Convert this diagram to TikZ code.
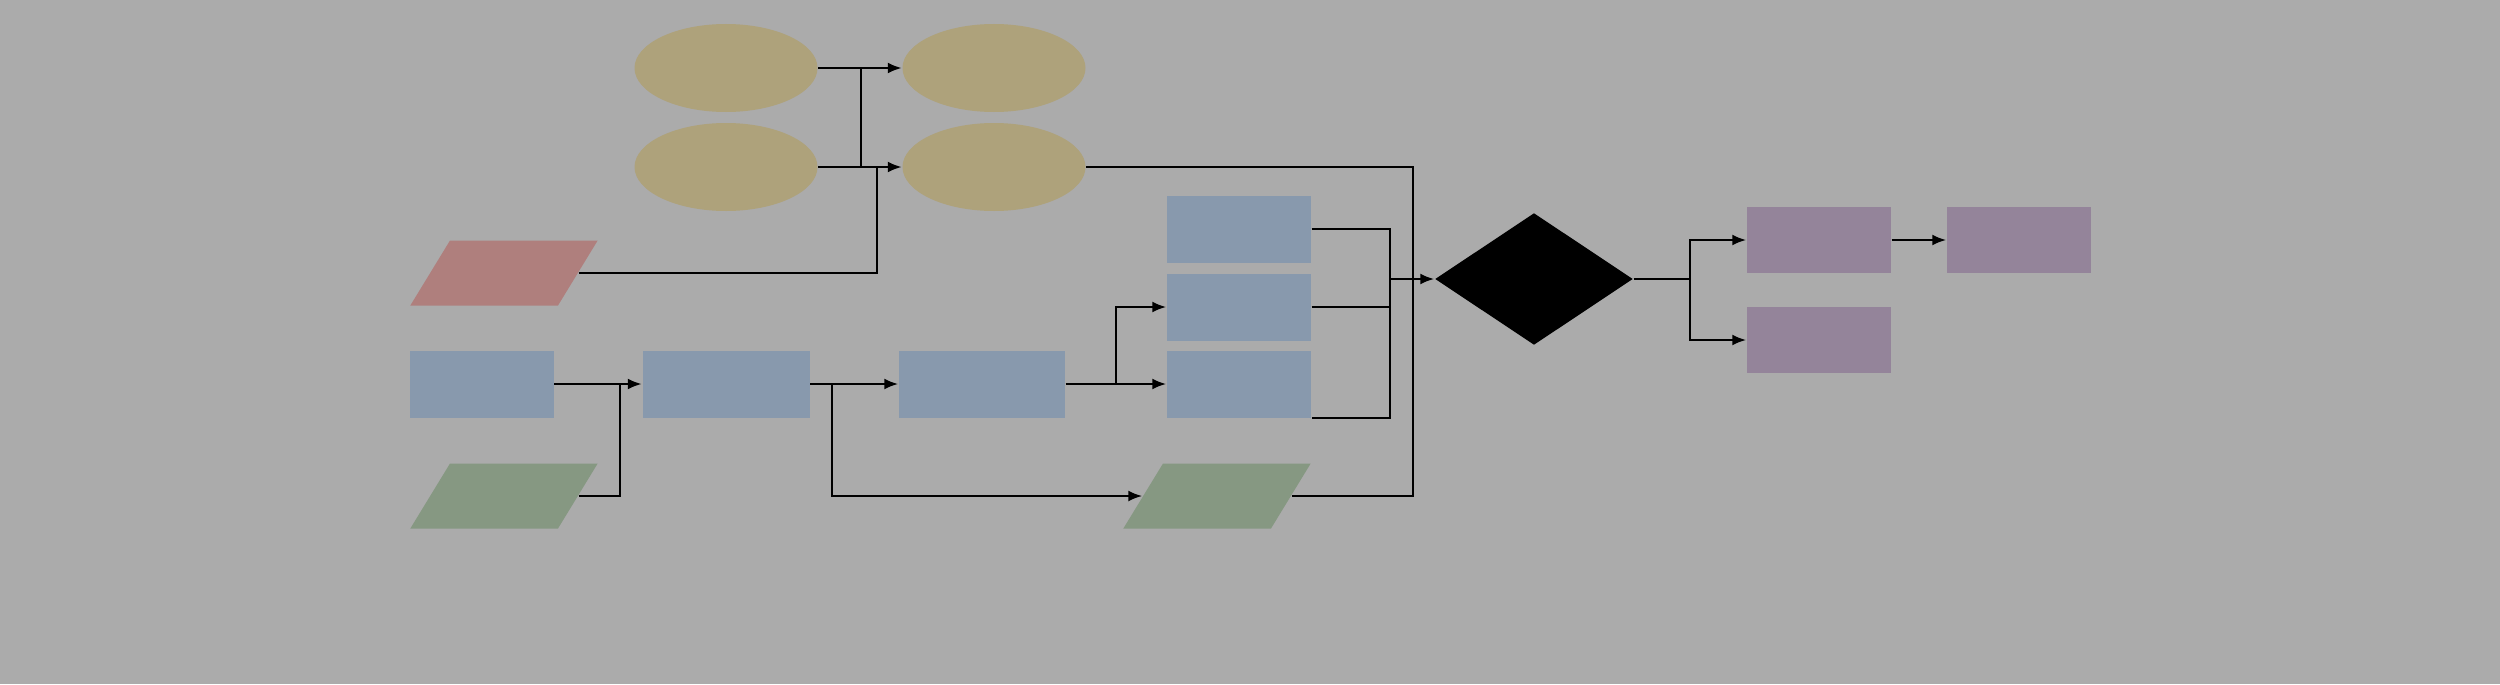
\documentclass[tikz,border=0pt]{standalone}
\usepackage{tikz}
\usetikzlibrary{arrows.meta,positioning,calc,shapes.geometric}
\usepackage{xcolor}
\definecolor{BgGray}{HTML}{ABABAB}
\definecolor{TanEll}{HTML}{AEA27B}
\definecolor{RoseIn}{HTML}{AF7F7D}
\definecolor{SlateBox}{HTML}{8899AD}
\definecolor{SageIn}{HTML}{869882}
\definecolor{MauveOut}{HTML}{94849A}

\tikzset{
  ovalnode/.style={ellipse,fill=TanEll,minimum width=1.83cm,minimum height=.88cm,inner sep=0pt},
  procbox/.style={rectangle,fill=SlateBox,minimum width=1.44cm,minimum height=.67cm,inner sep=0pt},
  iobox/.style={trapezium,trapezium left angle=58.6,trapezium right angle=121.4,
                inner xsep=.54cm,inner ysep=.325cm},
  outbox/.style={rectangle,fill=MauveOut,minimum width=1.44cm,minimum height=.66cm,inner sep=0pt},
  link/.style={black,line width=.7pt}
}

\begin{document}
\begin{tikzpicture}[>={Latex[length=1.4mm,width=1.1mm]}]
\useasboundingbox (0,0) rectangle (25,-6.84);
\fill[BgGray] (0,0) rectangle (25,-6.84);

% Elipses superiores
\node[ovalnode] (A1) at (7.26,-.68) {};
\node[ovalnode] (A2) at (7.26,-1.67) {};
\node[ovalnode] (B1) at (9.94,-.68) {};
\node[ovalnode] (B2) at (9.94,-1.67) {};

% Entradas
\node[iobox,fill=RoseIn] (R) at (5.04,-2.73) {};
\node[iobox,fill=SageIn] (G1) at (5.04,-4.96) {};
\node[iobox,fill=SageIn] (G2) at (12.17,-4.96) {};

% Cadena de procesos
\node[procbox] (L1) at (4.815,-3.84) {};
\node[procbox,minimum width=1.67cm] (L2) at (7.26,-3.84) {};
\node[procbox,minimum width=1.66cm] (L3) at (9.82,-3.84) {};
\node[procbox] (C1) at (12.39,-2.29) {};
\node[procbox] (C2) at (12.39,-3.07) {};
\node[procbox] (C3) at (12.39,-3.84) {};

% Decision
\node[diamond,fill=black,minimum width=1.98cm,minimum height=1.32cm,inner sep=0pt] (D) at (15.34,-2.79) {};

% Salidas
\node[outbox] (P1) at (18.19,-2.40) {};
\node[outbox] (P2) at (18.19,-3.40) {};
\node[outbox] (P3) at (20.19,-2.40) {};

% Puntos de union
\coordinate (jA) at (8.61,-.68);
\coordinate (jR) at (8.77,-1.67);
\coordinate (busG) at (14.13,-1.67);
\coordinate (jL) at (6.20,-3.84);
\coordinate (j2) at (8.32,-3.84);
\coordinate (j3) at (11.16,-3.84);
\coordinate (busB) at (13.90,-2.29);
\coordinate (jD) at (16.90,-2.79);

% Flechas superiores
\draw[link,->] (A1.east) -- (B1.west);
\draw[link,->] (A2.east) -- (B2.west);
\draw[link] (jA) -- (jA |- A2.east);
\draw[link] (R.east) -| (jR);
\draw[link] (B2.east) -- (busG) |- (G2.east);

% Flechas de la cadena
\draw[link,->] (L1.east) -- (L2.west);
\draw[link] (G1.east) -| (jL);
\draw[link,->] (L2.east) -- (L3.west);
\draw[link,->] (j2) |- (G2.west);
\draw[link,->] (L3.east) -- (C3.west);
\draw[link,->] (j3) |- (C2.west);

% Colector hacia la decision
\draw[link] (C1.east) -- (busB) |- (C3.south east);
\draw[link] (C2.east) -- (C2.east -| busB);
\draw[link,->] (busB |- D.west) -- (D.west);

% Ramas de salida
\draw[link] (D.east) -- (jD);
\draw[link,->] (jD) |- (P1.west);
\draw[link,->] (jD) |- (P2.west);
\draw[link,->] (P1.east) -- (P3.west);
\end{tikzpicture}
\end{document}
